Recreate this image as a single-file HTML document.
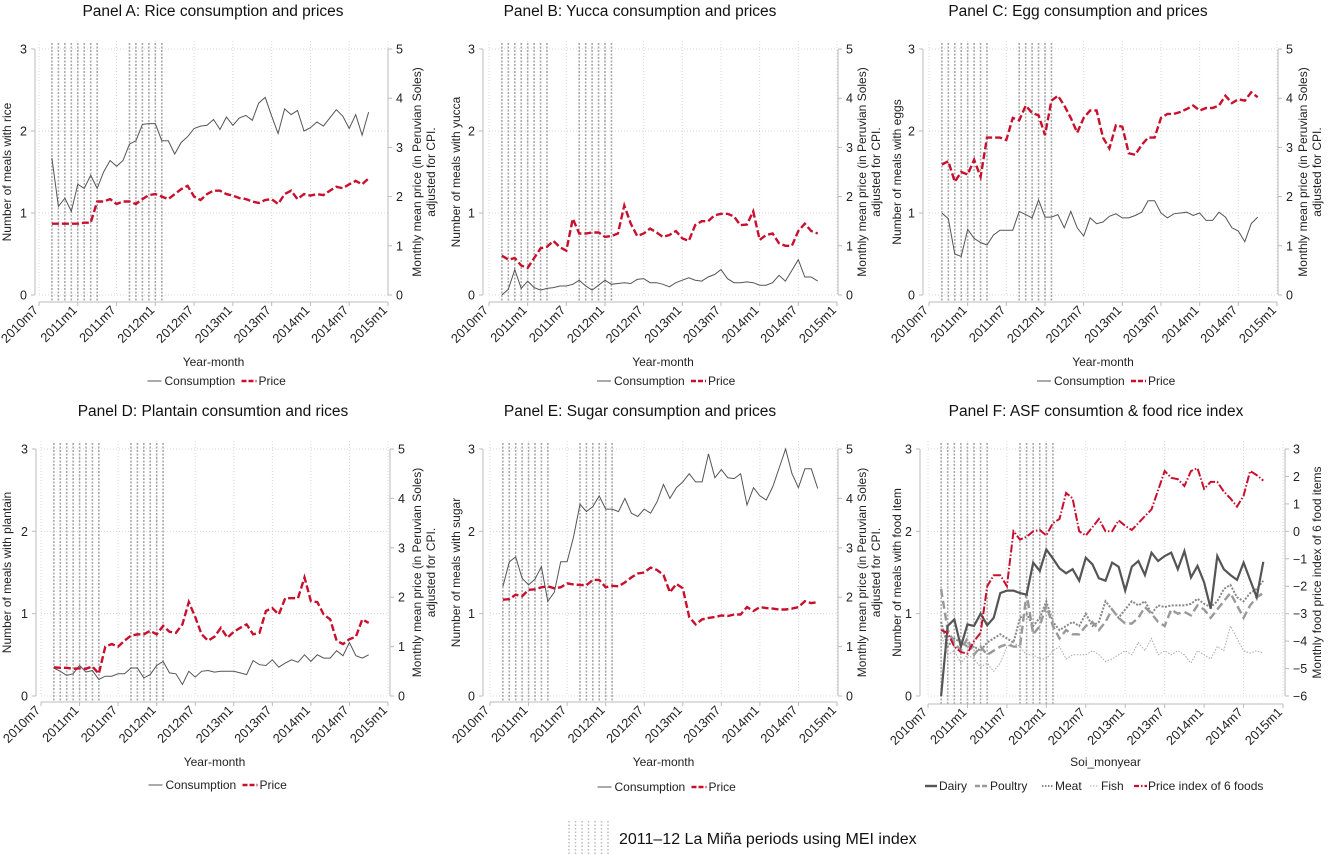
<!DOCTYPE html>
<html><head><meta charset="utf-8">
<style>
html,body{margin:0;padding:0;background:#fff;}
svg{display:block;font-family:"Liberation Sans",Arial,sans-serif;}
</style></head>
<body>
<svg id="chart" width="1328" height="854" viewBox="0 0 1328 854" xmlns="http://www.w3.org/2000/svg">
<rect width="1328" height="854" fill="#fff"/>
</svg>
<script>
// ---- shared axis data ----
const xTickLabels = ["2010m7","2011m1","2011m7","2012m1","2012m7","2013m1","2013m7","2014m1","2014m7","2015m1"];
const xTickMonths = [0,6,12,18,24,30,36,42,48,54];
const startMonth = 2; // first observation = 2010m9
const ninaBands = [[2,9],[14,19]];
const leftTicks = [0,1,2,3];
const priceTicks = [0,1,2,3,4,5];
const indexTicks = [-6,-5,-4,-3,-2,-1,0,1,2,3];

// ---- series data ----
const riceCons = [1.67,1.08,1.18,1.02,1.35,1.30,1.46,1.30,1.50,1.64,1.57,1.64,1.84,1.88,2.08,2.09,2.09,1.88,1.88,1.72,1.86,1.93,2.03,2.06,2.07,2.14,2.02,2.17,2.07,2.16,2.19,2.13,2.34,2.41,2.18,1.97,2.27,2.20,2.25,2.00,2.04,2.11,2.06,2.16,2.26,2.18,2.03,2.20,1.95,2.23];
const ricePrice = [1.45,1.45,1.45,1.45,1.45,1.47,1.47,1.90,1.90,1.95,1.85,1.90,1.90,1.85,1.95,2.03,2.05,2.00,1.95,2.05,2.15,2.22,2.00,1.93,2.05,2.12,2.12,2.05,2.02,1.97,1.95,1.90,1.87,1.93,1.95,1.85,2.05,2.12,1.95,2.05,2.02,2.05,2.03,2.12,2.20,2.17,2.25,2.32,2.25,2.37];
const yuccaCons = [0.00,0.07,0.31,0.08,0.17,0.09,0.06,0.08,0.09,0.11,0.11,0.13,0.18,0.11,0.06,0.12,0.18,0.13,0.14,0.15,0.14,0.19,0.20,0.15,0.15,0.13,0.10,0.15,0.18,0.21,0.18,0.17,0.22,0.25,0.31,0.20,0.15,0.15,0.16,0.15,0.12,0.12,0.15,0.24,0.17,0.30,0.43,0.22,0.22,0.17];
const yuccaPrice = [0.80,0.72,0.75,0.60,0.55,0.75,0.95,0.98,1.10,0.97,0.90,1.55,1.25,1.25,1.27,1.27,1.18,1.20,1.25,1.82,1.45,1.20,1.25,1.35,1.27,1.18,1.22,1.30,1.15,1.10,1.42,1.50,1.50,1.62,1.65,1.65,1.60,1.42,1.43,1.70,1.12,1.22,1.25,1.05,1.00,1.00,1.30,1.45,1.30,1.25];
const eggCons = [1.00,0.93,0.50,0.47,0.80,0.69,0.64,0.61,0.73,0.79,0.79,0.79,1.02,0.98,0.94,1.16,0.95,0.95,0.98,0.82,1.02,0.82,0.72,0.94,0.87,0.89,0.96,0.99,0.94,0.94,0.97,1.01,1.15,1.15,1.00,0.94,0.99,1.00,1.01,0.97,1.00,0.91,0.91,1.01,0.95,0.82,0.78,0.65,0.87,0.95];
const eggPrice = [2.65,2.72,2.30,2.50,2.45,2.75,2.40,3.20,3.20,3.20,3.15,3.60,3.55,3.85,3.70,3.65,3.25,3.95,4.05,3.85,3.60,3.30,3.60,3.75,3.75,3.20,2.98,3.45,3.42,2.88,2.85,3.05,3.20,3.20,3.60,3.68,3.68,3.72,3.78,3.85,3.75,3.80,3.80,3.85,4.05,3.90,3.98,3.95,4.12,4.02];
const plantainCons = [0.34,0.30,0.25,0.27,0.37,0.29,0.31,0.20,0.24,0.24,0.27,0.27,0.34,0.34,0.22,0.26,0.37,0.42,0.28,0.27,0.14,0.30,0.23,0.30,0.31,0.29,0.30,0.30,0.30,0.28,0.26,0.43,0.38,0.37,0.44,0.35,0.40,0.44,0.41,0.50,0.42,0.50,0.46,0.46,0.55,0.49,0.65,0.49,0.46,0.50];
const plantainPrice = [0.58,0.57,0.57,0.55,0.56,0.55,0.60,0.45,1.00,1.05,1.00,1.12,1.22,1.25,1.25,1.32,1.25,1.42,1.30,1.28,1.45,1.90,1.60,1.25,1.12,1.20,1.38,1.18,1.30,1.38,1.45,1.25,1.28,1.72,1.78,1.65,1.98,1.98,1.98,2.40,1.92,1.90,1.65,1.55,1.12,1.05,1.15,1.20,1.55,1.48];
const sugarCons = [1.33,1.63,1.69,1.43,1.35,1.42,1.57,1.15,1.26,1.63,1.63,1.93,2.33,2.24,2.30,2.43,2.27,2.27,2.24,2.40,2.22,2.18,2.27,2.22,2.36,2.57,2.40,2.53,2.60,2.70,2.60,2.60,2.94,2.65,2.75,2.65,2.64,2.70,2.32,2.53,2.43,2.38,2.54,2.77,3.00,2.70,2.53,2.76,2.76,2.52];
const sugarPrice = [1.95,1.96,2.05,2.02,2.15,2.16,2.20,2.22,2.18,2.20,2.28,2.26,2.25,2.24,2.35,2.35,2.20,2.23,2.22,2.30,2.40,2.48,2.50,2.60,2.55,2.45,2.10,2.27,2.18,1.60,1.45,1.55,1.58,1.60,1.63,1.62,1.65,1.65,1.80,1.72,1.80,1.78,1.77,1.75,1.75,1.77,1.80,1.92,1.88,1.90];
const dairyCons = [0.00,0.85,0.93,0.60,0.87,0.85,1.00,0.86,0.95,1.25,1.28,1.28,1.25,1.23,1.62,1.52,1.78,1.67,1.55,1.49,1.54,1.40,1.68,1.60,1.43,1.40,1.62,1.57,1.28,1.57,1.64,1.47,1.74,1.64,1.70,1.74,1.54,1.76,1.44,1.58,1.38,1.06,1.70,1.54,1.47,1.41,1.62,1.41,1.20,1.63];
const poultryCons = [1.30,0.80,0.65,0.55,0.70,0.50,0.60,0.50,0.55,0.60,0.63,0.60,0.60,1.25,0.75,0.85,1.10,0.85,0.70,0.80,0.75,0.75,0.85,0.90,0.80,0.90,1.05,0.95,0.88,0.88,0.95,1.08,1.00,0.90,0.85,1.05,1.00,1.02,0.98,1.10,1.05,0.95,1.05,1.15,1.25,1.10,0.95,1.10,1.20,1.25];
const meatCons = [0.90,0.60,0.70,0.65,0.60,0.60,0.55,0.65,0.70,0.75,0.70,0.65,0.95,1.00,0.85,0.95,1.15,0.90,0.80,0.85,0.90,0.85,1.00,0.85,0.90,1.15,1.05,0.95,1.05,1.15,1.10,1.15,1.00,1.10,1.08,1.10,1.10,1.10,1.12,1.18,1.12,1.08,1.15,1.30,1.35,1.20,1.15,1.25,1.30,1.40];
const fishCons = [0.75,0.50,0.55,0.40,0.50,0.45,0.35,0.40,0.30,0.40,0.60,0.65,0.60,0.50,0.50,0.45,0.45,0.55,0.60,0.45,0.50,0.50,0.50,0.55,0.50,0.42,0.45,0.50,0.55,0.50,0.65,0.55,0.70,0.50,0.55,0.50,0.55,0.50,0.40,0.55,0.50,0.45,0.60,0.55,0.85,0.70,0.55,0.52,0.55,0.52];
const priceIndex = [-3.6,-3.7,-4.2,-4.4,-4.45,-4.0,-3.7,-2.0,-1.6,-1.6,-2.0,0.0,-0.3,-0.2,0.0,0.05,-0.15,0.3,0.45,1.4,1.2,0.0,-0.15,0.15,0.45,0.0,0.0,0.4,0.2,0.05,0.3,0.55,0.8,1.5,2.2,1.95,1.9,1.65,2.2,2.3,1.55,1.8,1.8,1.45,1.2,0.9,1.3,2.2,2.05,1.85];

const NS = "http://www.w3.org/2000/svg";
const svg = document.getElementById("chart");
function mk(tag, attrs, parent, text){
  const e = document.createElementNS(NS, tag);
  for (const k in attrs) e.setAttribute(k, attrs[k]);
  if (text !== undefined) e.textContent = text;
  (parent||svg).appendChild(e);
  return e;
}
const RED = "#c8102e";

const panels = [
 {id:"a", title:"Panel A: Rice consumption and prices", lx:35, x0:39, x1:388, rx:388, top:49, bot:295, ax:302, ylab:"Number of meals with rice", ylx:8, rlx:[418,432],
  cons:riceCons, price:ricePrice, titleX:213, titleY:16, xtitle:"Year-month", xtY:366, legY:385},
 {id:"b", title:"Panel B: Yucca consumption and prices", lx:483, x0:489, x1:837, rx:838, top:49, bot:295, ax:302, ylab:"Number of meals with yucca", ylx:457, rlx:[863,877],
  cons:yuccaCons, price:yuccaPrice, titleX:640, titleY:16, xtitle:"Year-month", xtY:366, legY:385},
 {id:"c", title:"Panel C: Egg consumption and prices", lx:923, x0:929, x1:1277, rx:1278, top:49, bot:295, ax:302, ylab:"Number of meals with eggs", ylx:898, rlx:[1304,1318],
  cons:eggCons, price:eggPrice, titleX:1078, titleY:16, xtitle:"Year-month", xtY:366, legY:385},
 {id:"d", title:"Panel D: Plantain consumtion and rices", lx:36, x0:41, x1:388, rx:390, top:449, bot:696, ax:702, ylab:"Number of meals with plantain", ylx:8, rlx:[418,432],
  cons:plantainCons, price:plantainPrice, titleX:213, titleY:416, xtitle:"Year-month", xtY:766, legY:789},
 {id:"e", title:"Panel E: Sugar consumption and prices", lx:483, x0:490, x1:837, rx:838, top:449, bot:696, ax:702, ylab:"Number of meals with sugar", ylx:457, rlx:[863,877],
  cons:sugarCons, price:sugarPrice, titleX:640, titleY:416, xtitle:"Year-month", xtY:766, legY:791},
 {id:"f", title:"Panel F: ASF consumtion & food rice index", lx:920, x0:928, x1:1283, rx:1285, top:449, bot:696, ax:704, ylab:"Number of meals with food item", ylx:898, rlx:[1318],
  titleX:1096, titleY:416, xtitle:"Soi_monyear", xtY:766, legY:790, asf:true}
];

function path(vals, xf, yf){
  let d = "";
  vals.forEach((v,i)=>{ d += (i?"L":"M") + xf(i+startMonth).toFixed(1) + "," + yf(v).toFixed(1); });
  return d;
}

panels.forEach(p=>{
  const g = mk("g", {});
  
  
  const X = m => p.x0 + (p.x1 - p.x0) * m / 54;
  const YL = v => p.bot - (p.bot - p.top) * v / 3;
  const rMin = p.asf ? -6 : 0, rMax = p.asf ? 3 : 5;
  const YR = v => p.bot - (p.bot - p.top) * (v - rMin) / (rMax - rMin);

  const t = mk("text", {x:p.titleX, y:p.titleY, "text-anchor":"middle", "font-size":"15.5", fill:"#111"}, g, p.title);
  
  

  const grid = mk("g", {stroke:"#d8d8d8", "stroke-width":"1", "stroke-dasharray":"1,2"}, g);
  
  
  leftTicks.forEach(v=>{ mk("line", {x1:p.x0, x2:p.x1, y1:YL(v), y2:YL(v)}, grid); });
  xTickMonths.forEach(m=>{ mk("line", {x1:X(m), x2:X(m), y1:p.top-8, y2:p.bot}, grid); });

  const bands = mk("g", {stroke:"#aaa", "stroke-width":"1.6", "stroke-dasharray":"2,1.5"}, g);
  
  
  ninaBands.forEach(b=>{
    for (let m=b[0]; m<=b[1]; m++) mk("line", {x1:X(m), x2:X(m), y1:p.top-6, y2:p.ax}, bands);
  });

  const la = mk("line", {x1:p.lx, x2:p.lx, y1:p.top, y2:p.bot, stroke:"#bbb", "stroke-width":"1"}, g);
  
  
  const ra = mk("line", {x1:p.rx, x2:p.rx, y1:p.top, y2:p.bot, stroke:"#bbb", "stroke-width":"1"}, g);
  
  
  const xa = mk("line", {x1:p.x0, x2:p.x1, y1:p.ax, y2:p.ax, stroke:"#bbb", "stroke-width":"1"}, g);
  
  

  leftTicks.forEach(v=>{
    mk("line", {x1:p.lx-4, x2:p.lx, y1:YL(v), y2:YL(v), stroke:"#bbb"}, g);
    const tl = mk("text", {x:p.lx-8, y:YL(v)+4.5, "text-anchor":"end", "font-size":"12.5", fill:"#222"}, g, String(v));
    
    
  });
  const rTicks = p.asf ? indexTicks : priceTicks;
  rTicks.forEach(v=>{
    mk("line", {x1:p.rx, x2:p.rx+4, y1:YR(v), y2:YR(v), stroke:"#bbb"}, g);
    const tl = mk("text", {x:p.rx+8, y:YR(v)+4.5, "font-size":"12.5", fill:"#222"}, g, v<0 ? "\u2212"+(-v) : String(v));
    
    
  });
  xTickMonths.forEach((m,i)=>{
    mk("line", {x1:X(m), x2:X(m), y1:p.ax, y2:p.ax+4, stroke:"#bbb"}, g);
    const tx = X(m), ty = p.ax + 9;
    const tl = mk("text", {x:tx, y:ty, "text-anchor":"end", "font-size":"12.8", fill:"#222", transform:`rotate(-45 ${tx} ${ty})`}, g, xTickLabels[i]);
    
    
  });

  const cy = (p.top + p.bot) / 2;
  const yt = mk("text", {x:p.ylx, y:cy, "text-anchor":"middle", "font-size":"12", fill:"#222", transform:`rotate(-90 ${p.ylx} ${cy})`, "dominant-baseline":"middle"}, g, p.ylab);
  
  
  if (p.asf){
    const rt = mk("text", {x:p.rlx[0], y:cy, "text-anchor":"middle", "font-size":"12", fill:"#222", transform:`rotate(-90 ${p.rlx[0]} ${cy})`, "dominant-baseline":"middle"}, g, "Monthly food price index of 6 food items");
    
    
  } else {
    const r1 = mk("text", {x:p.rlx[0], y:cy, "text-anchor":"middle", "font-size":"12", fill:"#222", transform:`rotate(-90 ${p.rlx[0]} ${cy})`, "dominant-baseline":"middle"}, g, "Monthly mean price (in Peruvian Soles)");
    
    
    const r2 = mk("text", {x:p.rlx[1], y:cy, "text-anchor":"middle", "font-size":"12", fill:"#222", transform:`rotate(-90 ${p.rlx[1]} ${cy})`, "dominant-baseline":"middle"}, g, "adjusted for CPI.");
    
    
  }
  const xc = (p.x0 + p.x1) / 2;
  const xt = mk("text", {x:xc, y:p.xtY, "text-anchor":"middle", "font-size":"12", fill:"#222"}, g, p.xtitle);
  
  

  if (!p.asf){
    const c = mk("path", {d:path(p.cons, X, YL), fill:"none", stroke:"#555", "stroke-width":"1"}, g);
    
    
    const pr = mk("path", {d:path(p.price, X, YR), fill:"none", stroke:RED, "stroke-width":"2.4", "stroke-dasharray":"7,3"}, g);
    
    
    const lg = mk("g", {}, g);
    
    
    const lx = xc - 66, ly = p.legY;
    mk("line", {x1:lx, x2:lx+14, y1:ly-4, y2:ly-4, stroke:"#555", "stroke-width":"1"}, lg);
    const e1 = mk("text", {x:lx+17, y:ly, "font-size":"12", fill:"#222"}, lg, "Consumption");
    
    
    mk("line", {x1:lx+94, x2:lx+109, y1:ly-4, y2:ly-4, stroke:RED, "stroke-width":"2.4", "stroke-dasharray":"5,2"}, lg);
    const e2 = mk("text", {x:lx+111, y:ly, "font-size":"12", fill:"#222"}, lg, "Price");
    
    
  } else {
    const fish = mk("path", {d:path(fishCons, X, YL), fill:"none", stroke:"#aaa", "stroke-width":"1", "stroke-dasharray":"1.5,1.5"}, g);
    
    
    const meat = mk("path", {d:path(meatCons, X, YL), fill:"none", stroke:"#888", "stroke-width":"2", "stroke-dasharray":"2,1.5"}, g);
    
    
    const poul = mk("path", {d:path(poultryCons, X, YL), fill:"none", stroke:"#999", "stroke-width":"2.4", "stroke-dasharray":"8,4"}, g);
    
    
    const dairy = mk("path", {d:path(dairyCons, X, YL), fill:"none", stroke:"#555", "stroke-width":"2.2"}, g);
    
    
    const pi = mk("path", {d:path(priceIndex, X, YR), fill:"none", stroke:RED, "stroke-width":"2", "stroke-dasharray":"8,2,1.5,2"}, g);
    
    
    const lg = mk("g", {}, g);
    
    
    const ly = p.legY;
    mk("line", {x1:925, x2:937, y1:ly-4, y2:ly-4, stroke:"#555", "stroke-width":"2.4"}, lg);
    const d1 = mk("text", {x:939, y:ly, "font-size":"12", fill:"#222"}, lg, "Dairy");
    
    
    mk("line", {x1:975, x2:988, y1:ly-4, y2:ly-4, stroke:"#999", "stroke-width":"2.4", "stroke-dasharray":"5,2"}, lg);
    const d2 = mk("text", {x:990, y:ly, "font-size":"12", fill:"#222"}, lg, "Poultry");
    
    
    mk("line", {x1:1042, x2:1054, y1:ly-4, y2:ly-4, stroke:"#888", "stroke-width":"2", "stroke-dasharray":"1.5,1.5"}, lg);
    const d3 = mk("text", {x:1055, y:ly, "font-size":"12", fill:"#222"}, lg, "Meat");
    
    
    mk("line", {x1:1090, x2:1099, y1:ly-4, y2:ly-4, stroke:"#aaa", "stroke-width":"1", "stroke-dasharray":"1.5,1.5"}, lg);
    const d4 = mk("text", {x:1101, y:ly, "font-size":"12", fill:"#222"}, lg, "Fish");
    
    
    mk("line", {x1:1134, x2:1147, y1:ly-4, y2:ly-4, stroke:RED, "stroke-width":"2.2", "stroke-dasharray":"5,2,1.5,2"}, lg);
    const d5 = mk("text", {x:1148, y:ly, "font-size":"12", fill:"#222"}, lg, "Price index of 6 foods");
    
    
  }
});

const gl = mk("g", {});


const glb = mk("g", {stroke:"#bbb", "stroke-width":"1.5", "stroke-dasharray":"1.5,2"}, gl);
for (let i=0; i<7; i++){ const x = 569 + i*6.5; mk("line", {x1:x, x2:x, y1:821, y2:855}, glb); }
const glt = mk("text", {x:619, y:844, "font-size":"16", fill:"#111"}, gl, "2011\u201312 La Mi\u00f1a periods using MEI index");


</script>
</body></html>
